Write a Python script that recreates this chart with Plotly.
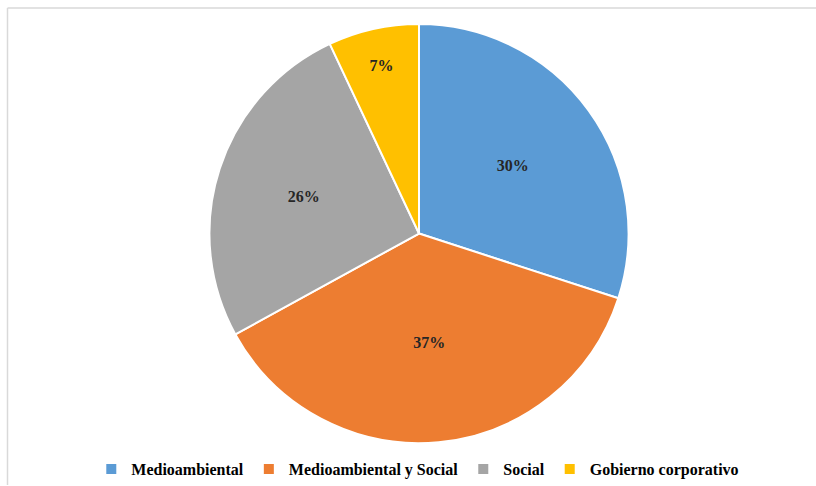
import plotly.graph_objects as go

labels = ["Medioambiental", "Medioambiental y Social", "Social", "Gobierno corporativo"]
values = [30, 37, 26, 7]
colors = ["#5B9BD5", "#ED7D31", "#A5A5A5", "#FFC000"]

W, H = 816, 486
cx, cy, r = 419, 234, 210

fig = go.Figure(go.Pie(
    labels=labels, values=values, sort=False, direction="clockwise", rotation=0,
    marker=dict(colors=colors, line=dict(color="white", width=2)),
    textinfo="percent", texttemplate="%{percent:.0%}", textposition="inside",
    insidetextorientation="horizontal",
    textfont=dict(family="Liberation Serif", size=16, color="#262626", weight="bold"),
    domain=dict(x=[(cx - r) / W, (cx + r) / W], y=[(H - cy - r) / H, (H - cy + r) / H]),
    hoverinfo="label+percent",
))

fig.update_layout(
    width=W, height=H, margin=dict(l=0, r=0, t=0, b=0),
    paper_bgcolor="white", plot_bgcolor="white",
    showlegend=True,
    legend=dict(orientation="h", x=0.512, xanchor="center", y=(H - 470) / H, yanchor="middle",
                font=dict(family="Liberation Serif", size=16, color="#000000", weight="bold"),
                itemwidth=30, tracegroupgap=0),
    shapes=[
        dict(type="line", xref="paper", yref="paper", x0=7.5 / W, x1=1, y0=(H - 8) / H, y1=(H - 8) / H,
             line=dict(color="#D9D9D9", width=1.5)),
        dict(type="line", xref="paper", yref="paper", x0=7.5 / W, x1=7.5 / W, y0=0, y1=(H - 8) / H,
             line=dict(color="#D9D9D9", width=1.5)),
    ],
)
fig.write_html("out.html")
